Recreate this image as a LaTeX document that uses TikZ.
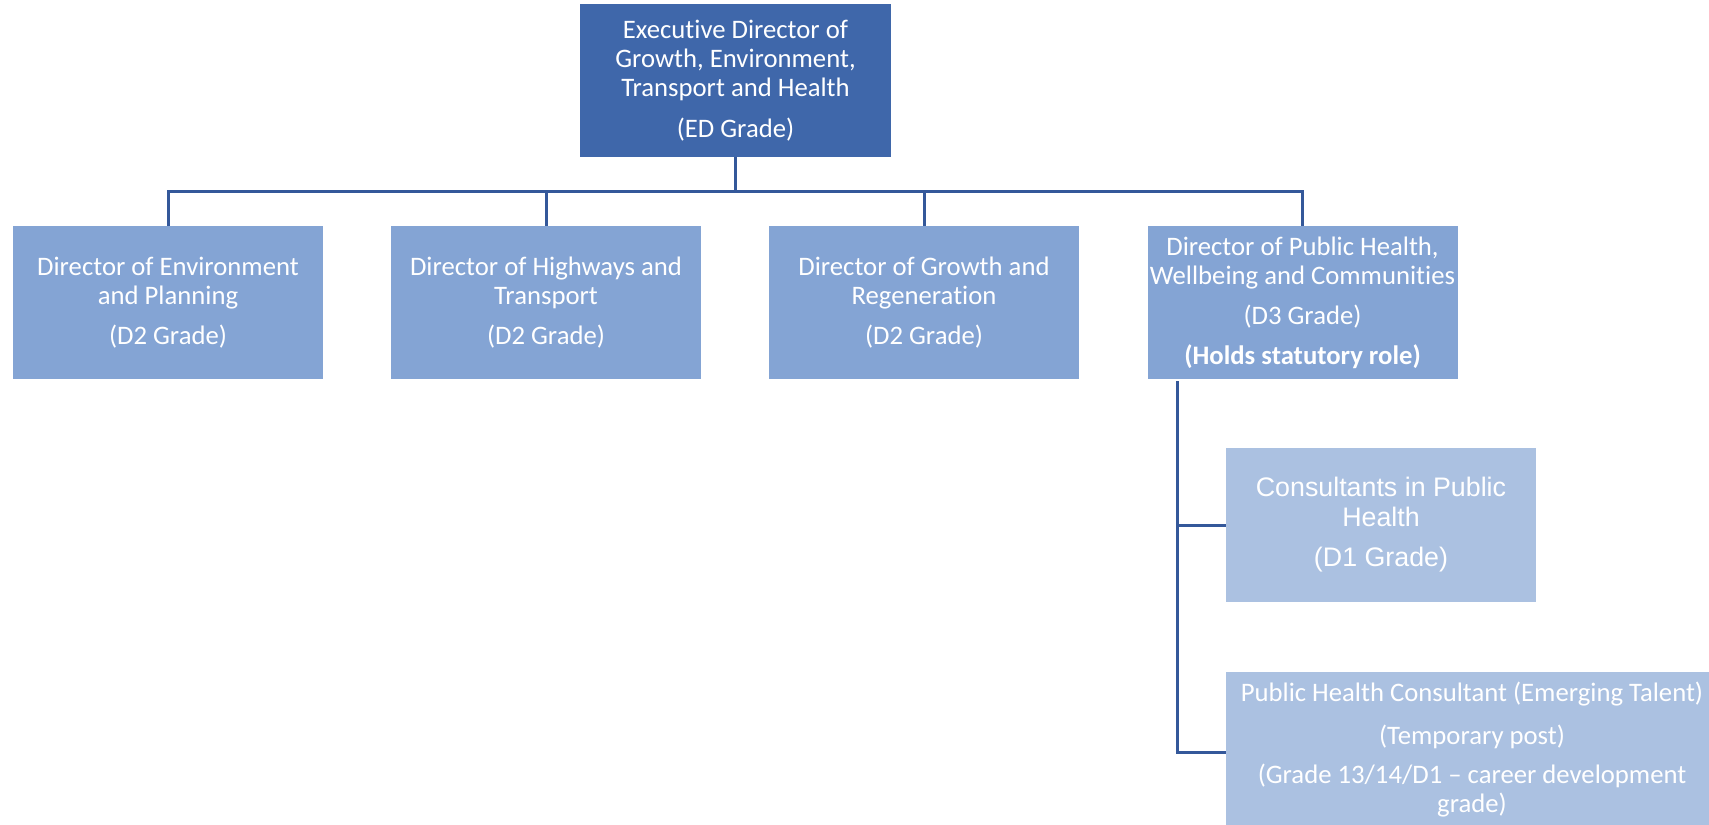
\documentclass[tikz,border=0pt]{standalone}
\usepackage{fontspec}
\setmainfont{Carlito}[Ligatures=NoCommon]
\newfontfamily\arialfont{Liberation Sans}
\definecolor{edblue}{RGB}{63,103,170}
\definecolor{dirblue}{RGB}{132,164,212}
\definecolor{conblue}{RGB}{171,193,225}
\definecolor{linkblue}{RGB}{52,88,154}
\tikzset{
  post/.style={fill=dirblue, text=white, align=center, inner sep=0pt,
    minimum width=155pt, minimum height=76.5pt,
    font=\fontsize{13.35}{14.5}\selectfont},
  link/.style={draw=linkblue, line width=1.5pt},
}
\begin{document}
\begin{tikzpicture}[x=0.5pt, y=-0.5pt]
      \useasboundingbox (0,0) rectangle (1709,825);
      \clip (0,0) rectangle (1709,825);
      \draw
        (735.5,80.5) node[post, fill=edblue, minimum width=155.5pt] (ed)
          {Executive Director of\\Growth, Environment,\\Transport and Health\\[6pt](ED Grade)}
        (168,302.5) node[post] (env) {Director of Environment\\and Planning\\[5.5pt](D2 Grade)}
        (546,302.5) node[post] (hwy) {Director of Highways and\\Transport\\[5.5pt](D2 Grade)}
        (924,302.5) node[post] (grw) {Director of Growth and\\Regeneration\\[5.5pt](D2 Grade)}
        (1302.5,302.5) node[post] (ph) {Director of Public Health,\\Wellbeing and Communities\\[5.5pt](D3 Grade)\\[5.5pt]\textbf{(Holds statutory role)}}
        (1381,525) node[post, fill=conblue, minimum height=77pt,
          font=\arialfont\fontsize{13.4}{15}\selectfont] (cph)
          {Consultants in Public\\Health\\[5pt](D1 Grade)}
        (1472,750) node[post, fill=conblue, minimum width=246pt, minimum height=78pt] (pht)
          {Public Health Consultant (Emerging Talent)\\[7pt](Temporary post)\\[5pt](Grade 13/14/D1 -- career development\\grade)};
      \coordinate (spine) at (1177,381);
      \begin{scope}[link]
        \draw (ed.south) -- ++(0,34.5) -| (env.north);
        \draw (ed.south) -- ++(0,34.5) -| (hwy.north);
        \draw (ed.south) -- ++(0,34.5) -| (grw.north);
        \draw (ed.south) -- ++(0,34.5) -| (ph.north);
        \draw (spine) |- (cph.west);
        \draw (spine) |- ([yshift=-1pt]pht.west);
      \end{scope}
    \end{tikzpicture}
\end{document}
